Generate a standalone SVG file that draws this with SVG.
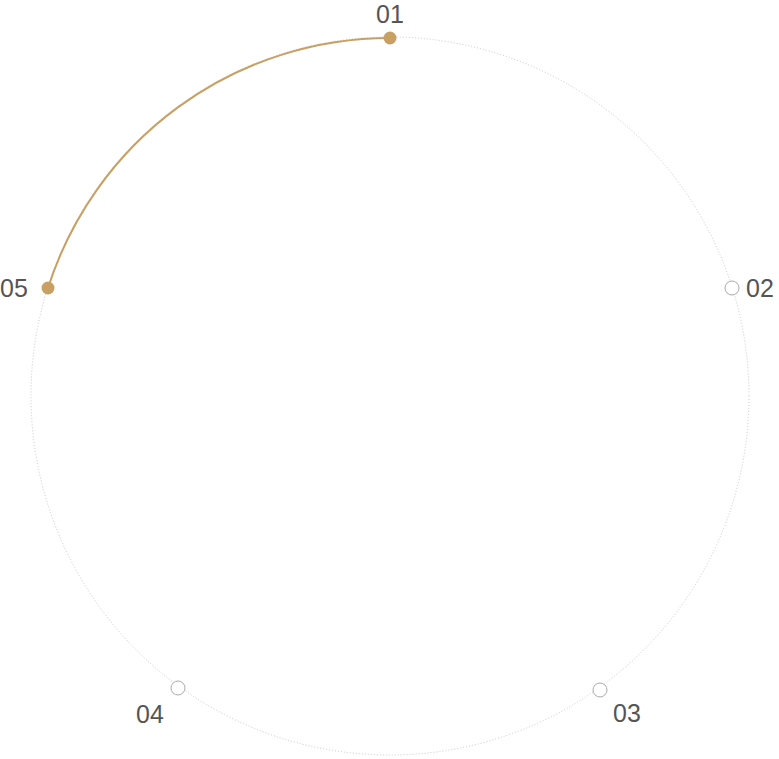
<svg xmlns="http://www.w3.org/2000/svg" width="779" height="759" viewBox="0 0 779 759">
<style>
.lbl{font-family:"Liberation Sans",Arial,sans-serif;font-size:25px;fill:#555;}
.ring{fill:none;stroke:#c8c8c8;stroke-width:1;stroke-dasharray:1 2;}
.prog{fill:none;stroke:#c9a063;stroke-width:2;}
.on{fill:#c9a063;}
.off{fill:#fff;stroke:#aaa;stroke-width:1;}
</style>
<rect width="779" height="759" fill="#fff"/>
<g id="connectors">
<circle class="ring" cx="390" cy="396" r="359"/>
<path class="prog" d="M390,38 A359,359 0 0 0 48,288"/>
</g>
<g id="node-01"><circle class="on" cx="390" cy="38" r="6.5"/><text class="lbl" x="390" y="23" text-anchor="middle">01</text></g>
<g id="node-02"><circle class="off" cx="732" cy="288" r="7"/><text class="lbl" x="746" y="297">02</text></g>
<g id="node-03"><circle class="off" cx="600" cy="690" r="7"/><text class="lbl" x="613" y="722">03</text></g>
<g id="node-04"><circle class="off" cx="178" cy="688" r="7"/><text class="lbl" x="136" y="723">04</text></g>
<g id="node-05"><circle class="on" cx="48" cy="288" r="6.5"/><text class="lbl" x="0" y="297">05</text></g>
</svg>
